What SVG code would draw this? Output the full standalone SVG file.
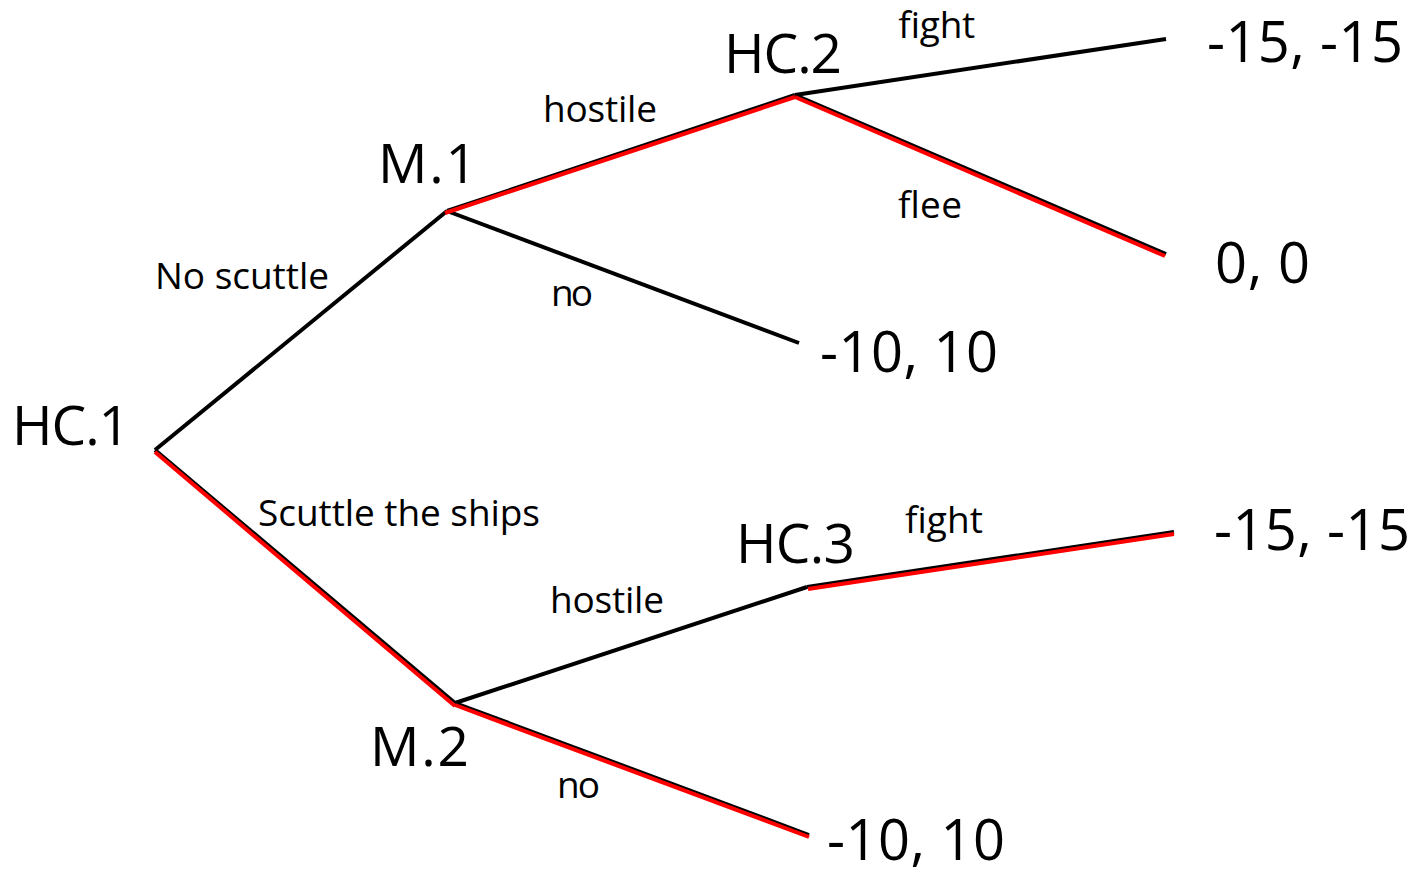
<svg xmlns="http://www.w3.org/2000/svg" width="1416" height="874" viewBox="0 0 1416 874">
  <style>
    .edge { stroke: #000; stroke-width: 4; stroke-linecap: butt; fill: none; }
    .path { stroke: #ff0000; stroke-width: 4; stroke-linecap: butt; fill: none; }
    .lbl { font-family: "Open Sans", "Liberation Sans", sans-serif; font-size: 37px; fill: #000; }
    .node { font-family: "Open Sans", "Liberation Sans", sans-serif; font-size: 55px; fill: #000; }
    .pay { font-family: "Open Sans", "Liberation Sans", sans-serif; font-size: 56px; fill: #000; }
  </style>
  <rect width="1416" height="874" fill="#fff"/>

  <g id="connectors">
    <!-- branches -->
    <line class="edge" x1="155" y1="450" x2="447" y2="211"/>
    <line class="edge" x1="155" y1="450" x2="455" y2="703"/>
    <line class="edge" x1="447" y1="211" x2="795" y2="95"/>
    <line class="edge" x1="447" y1="211" x2="799" y2="343"/>
    <line class="edge" x1="795" y1="95" x2="1166" y2="39"/>
    <line class="edge" x1="795" y1="95" x2="1166" y2="254"/>
    <line class="edge" x1="455" y1="703" x2="807" y2="587"/>
    <line class="edge" x1="455" y1="703" x2="809" y2="835"/>
    <line class="edge" x1="807" y1="587" x2="1174" y2="532"/>
    <!-- equilibrium path -->
    <line class="path" x1="155" y1="452" x2="455" y2="706"/>
    <line class="path" x1="445" y1="213" x2="795" y2="97"/>
    <line class="path" x1="795" y1="97" x2="1165" y2="256"/>
    <line class="path" x1="455" y1="705" x2="809" y2="837"/>
    <line class="path" x1="808" y1="589" x2="1174" y2="534"/>
  </g>

  <g id="HC1"><text class="node" x="12" y="445" textLength="118">HC.1</text></g>
  <g id="M1"><text class="node" x="378" y="183" textLength="99">M.1</text></g>
  <g id="HC2"><text class="node" x="724" y="73" textLength="118">HC.2</text></g>
  <g id="M2"><text class="node" x="370" y="766" textLength="99">M.2</text></g>
  <g id="HC3"><text class="node" x="736" y="563" textLength="119">HC.3</text></g>

  <g id="payoff-fight-1"><text class="pay" x="1207" y="62" textLength="196">-15, -15</text></g>
  <g id="payoff-flee"><text class="pay" x="1215" y="283" textLength="95">0, 0</text></g>
  <g id="payoff-no-1"><text class="pay" x="820" y="372" textLength="178">-10, 10</text></g>
  <g id="payoff-fight-2"><text class="pay" x="1214" y="550" textLength="196">-15, -15</text></g>
  <g id="payoff-no-2"><text class="pay" x="827" y="860" textLength="178">-10, 10</text></g>

  <g id="labels">
    <text class="lbl" x="898" y="38" textLength="77">fight</text>
    <text class="lbl" x="543" y="122" textLength="114">hostile</text>
    <text class="lbl" x="898" y="218" textLength="64">flee</text>
    <text class="lbl" x="155" y="289" textLength="174">No scuttle</text>
    <text class="lbl" x="551" y="306" textLength="42">no</text>
    <text class="lbl" x="258" y="526" textLength="282">Scuttle the ships</text>
    <text class="lbl" x="905" y="533" textLength="78">fight</text>
    <text class="lbl" x="550" y="613" textLength="114">hostile</text>
    <text class="lbl" x="557" y="798" textLength="43">no</text>
  </g>
</svg>
